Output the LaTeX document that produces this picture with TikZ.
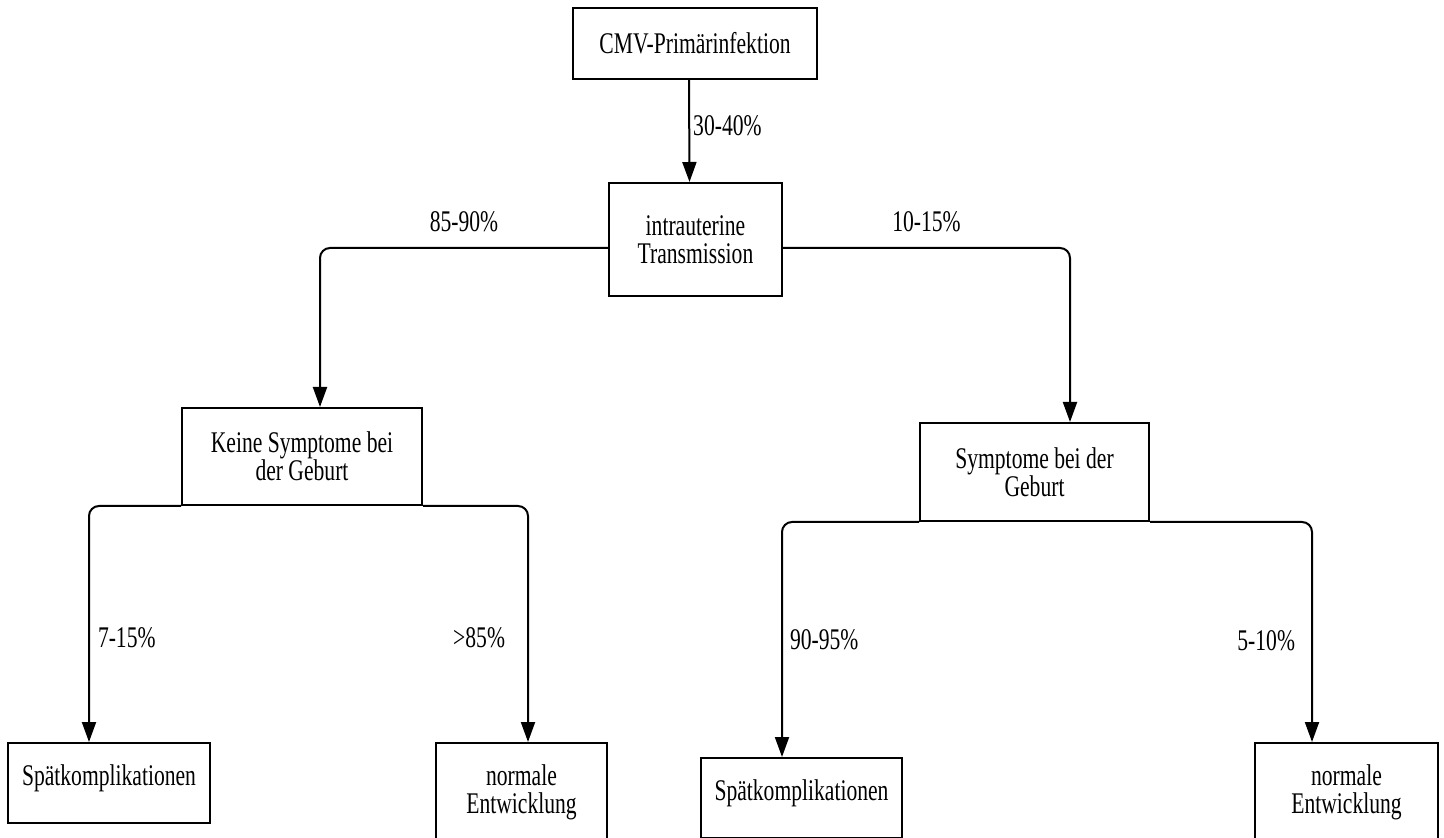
\documentclass[tikz,border=0pt]{standalone}
\usepackage{fontspec}
\setmainfont[FakeStretch=0.72]{Liberation Serif}
\usetikzlibrary{arrows.meta,positioning}
\tikzset{
>={Triangle[length=10pt,width=7pt]},
}
\begin{document}
\begin{tikzpicture}[x=0.5pt,y=-0.5pt]
  \tikzset{
      every node/.style={font=\fontsize{15pt}{14pt}\selectfont},
      action/.style={rectangle,draw=black, line width=1pt, inner sep=0pt, align=center},
      myarrow/.style={draw, ->, line width=1pt, rounded corners=5pt},
  }
  \useasboundingbox (0,0) rectangle (1444,838);
  \fill[white] (0,0) rectangle (1444,838);
  \clip (0,0) rectangle (1444,838);

  \node[action, minimum width=122pt, minimum height=35.5pt] (item1) at (695,43.5) {CMV-Primärinfektion};
  \node[action, minimum width=86.5pt, minimum height=56.5pt] (item2) at (695.5,239.5) {intrauterine\\Transmission};

    \node[action, minimum width=120pt, minimum height=48.5pt] (item3) at (302,456.5) {Keine Symptome bei\\der Geburt};
      \node[action, minimum width=101pt, minimum height=40pt, text depth=8pt] (item5) at (109,783) {Spätkomplikationen};
      \node[action, minimum width=85.5pt, minimum height=49.5pt] (item6) at (521.5,792.5) {normale\\Entwicklung};

    \node[action, minimum width=114.5pt, minimum height=49pt] (item4) at (1034.5,472) {Symptome bei der\\Geburt};
      \node[action, minimum width=100.5pt, minimum height=40pt, text depth=8pt] (item7) at (801.5,798) {Spätkomplikationen};
      \node[action, minimum width=91.5pt, minimum height=49.5pt] (item8) at (1346.5,792.5) {normale\\Entwicklung};

  \path[myarrow] ([xshift=-3pt]item1.south) -- node [right=0.5pt, pos=0.45, inner sep=1pt] {30-40\%} ([xshift=-3pt]item2.north);
  \path[myarrow] ([yshift=-4.25pt]item2.west) -| node [above=6.5pt, pos=0.25, inner sep=1pt] {85-90\%} ([xshift=9pt]item3.north);
  \path[myarrow] ([yshift=-4.25pt]item2.east) -| node [above=6.5pt, pos=0.25, inner sep=1pt] {10-15\%} ([xshift=17.75pt]item4.north);
    \path[myarrow] (item3.south west) -| node [right=3pt, pos=0.78, inner sep=1pt] {7-15\%} ([xshift=-10pt]item5.north);
    \path[myarrow] (item3.south east) -| node [left=10pt, pos=0.78, inner sep=1pt] {>85\%} ([xshift=3.25pt]item6.north);
    \path[myarrow] (item4.south west) -| node [right=2.5pt, pos=0.75, inner sep=1pt] {90-95\%} ([xshift=-9.75pt]item7.north);
    \path[myarrow] (item4.south east) -| node [left=7pt, pos=0.77, inner sep=1pt] {5-10\%} ([xshift=-17.25pt]item8.north);

  \end{tikzpicture}
\end{document}
